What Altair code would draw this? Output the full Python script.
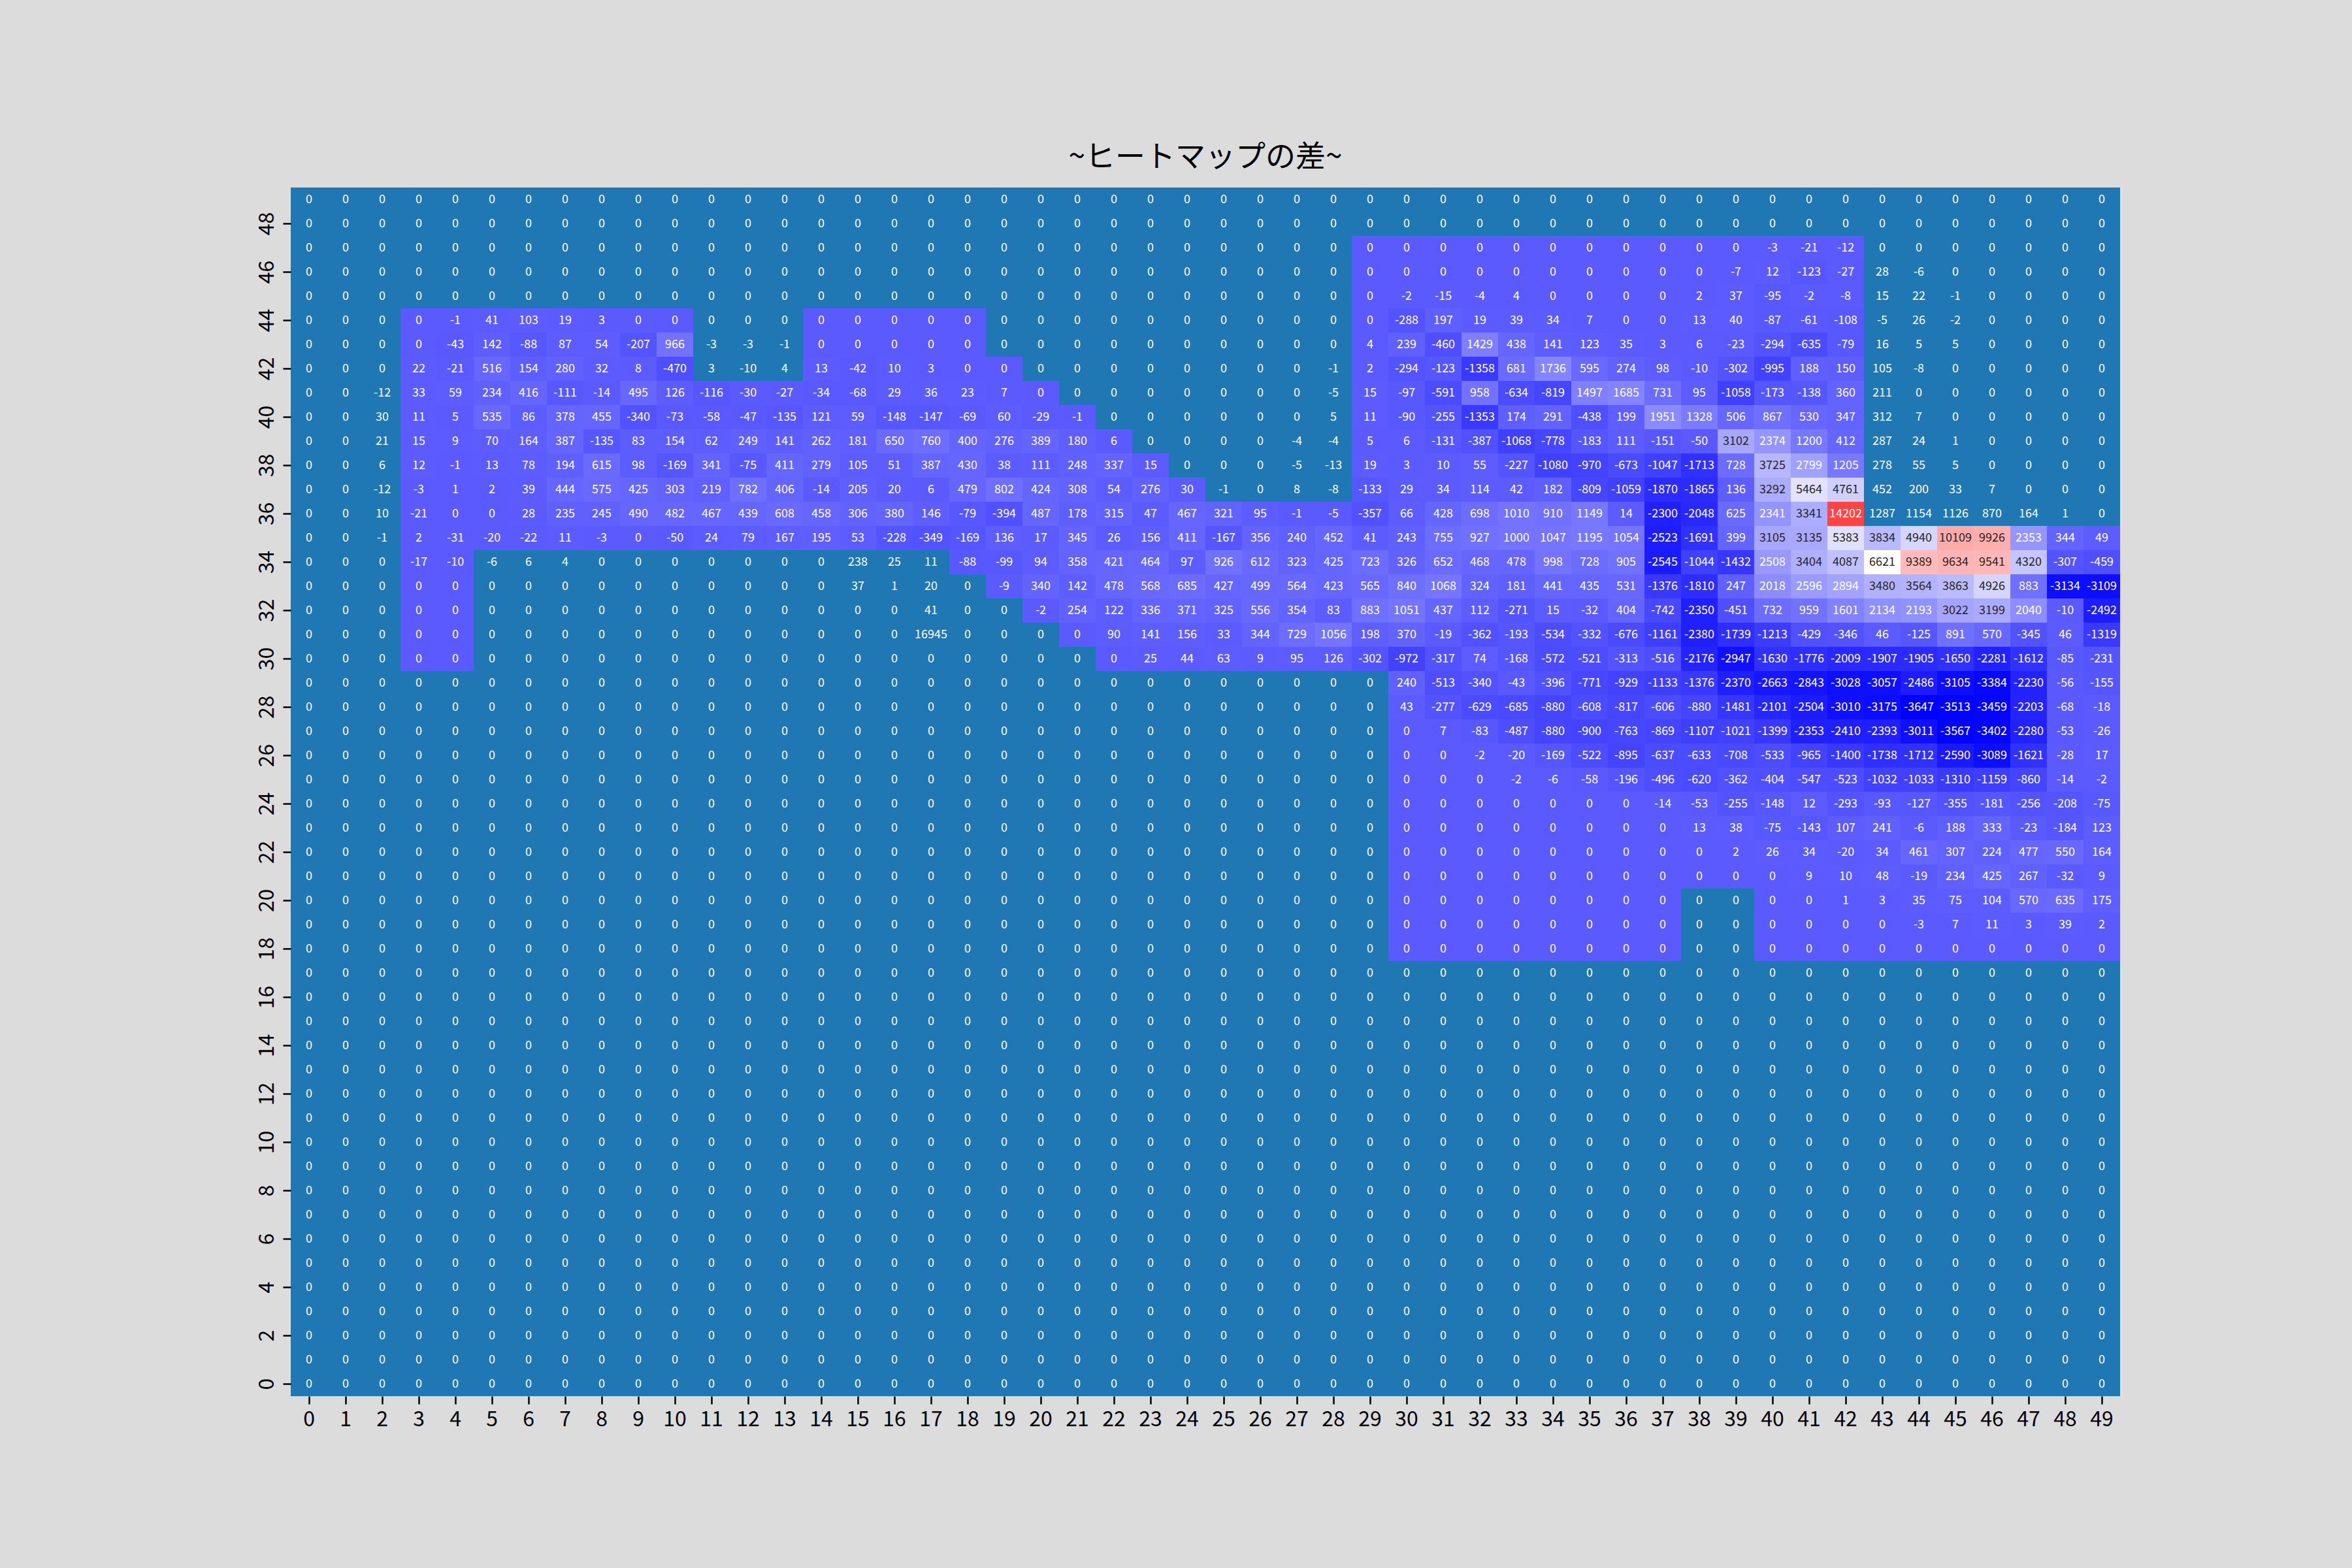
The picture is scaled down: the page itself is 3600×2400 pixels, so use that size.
import altair as alt
import pandas as pd

# ---------------- data ----------------
N_ROWS = 50
N_COLS = 50
TITLE = "~ヒートマップの差~"
Y_TICKS = list(range(0, 50, 2))

# non-zero cell values: row -> list of (start column, consecutive values)
CELL_VALUES = {
    47: [(40, [-3, -21, -12])],
    46: [(39, [-7, 12, -123, -27, 28, -6])],
    45: [(30, [-2, -15, -4, 4, 0, 0, 0, 0, 2, 37, -95, -2, -8, 15, 22, -1])],
    44: [(4, [-1, 41, 103, 19, 3]),
         (30, [-288, 197, 19, 39, 34, 7, 0, 0, 13, 40, -87, -61, -108, -5, 26, -2])],
    43: [(4, [-43, 142, -88, 87, 54, -207, 966, -3, -3, -1]),
         (29, [4, 239, -460, 1429, 438, 141, 123, 35, 3, 6, -23, -294, -635, -79, 16, 5, 5])],
    42: [(3, [22, -21, 516, 154, 280, 32, 8, -470, 3, -10, 4, 13, -42, 10, 3]),
         (28, [-1, 2, -294, -123, -1358, 681, 1736, 595, 274, 98, -10, -302, -995, 188, 150, 105, -8])],
    41: [(2, [-12, 33, 59, 234, 416, -111, -14, 495, 126, -116, -30, -27, -34, -68, 29, 36, 23, 7]),
         (28, [-5, 15, -97, -591, 958, -634, -819, 1497, 1685, 731, 95, -1058, -173, -138, 360, 211])],
    40: [(2, [30, 11, 5, 535, 86, 378, 455, -340, -73, -58, -47, -135, 121, 59, -148, -147, -69, 60, -29, -1]),
         (28, [5, 11, -90, -255, -1353, 174, 291, -438, 199, 1951, 1328, 506, 867, 530, 347, 312, 7])],
    39: [(2, [21, 15, 9, 70, 164, 387, -135, 83, 154, 62, 249, 141, 262, 181, 650, 760, 400, 276, 389, 180, 6]),
         (27, [-4, -4, 5, 6, -131, -387, -1068, -778, -183, 111, -151, -50, 3102, 2374, 1200, 412, 287, 24, 1])],
    38: [(2, [6, 12, -1, 13, 78, 194, 615, 98, -169, 341, -75, 411, 279, 105, 51, 387, 430, 38, 111, 248, 337, 15]),
         (27, [-5, -13, 19, 3, 10, 55, -227, -1080, -970, -673, -1047, -1713, 728, 3725, 2799, 1205, 278, 55, 5])],
    37: [(2, [-12, -3, 1, 2, 39, 444, 575, 425, 303,
              219, 782, 406, -14, 205, 20, 6, 479, 802,
              424, 308, 54, 276, 30, -1, 0, 8, -8,
              -133, 29, 34, 114, 42, 182, -809, -1059, -1870, -1865, 136,
              3292, 5464, 4761, 452, 200, 33, 7])],
    36: [(2, [10, -21, 0, 0, 28, 235, 245, 490, 482,
              467, 439, 608, 458, 306, 380, 146, -79, -394,
              487, 178, 315, 47, 467, 321, 95, -1, -5,
              -357, 66, 428, 698, 1010, 910, 1149, 14, -2300, -2048, 625,
              2341, 3341, 14202, 1287, 1154, 1126, 870, 164, 1])],
    35: [(2, [-1, 2, -31, -20, -22, 11, -3, 0, -50,
              24, 79, 167, 195, 53, -228, -349, -169, 136,
              17, 345, 26, 156, 411, -167, 356, 240, 452,
              41, 243, 755, 927, 1000, 1047, 1195, 1054, -2523, -1691, 399,
              3105, 3135, 5383, 3834, 4940, 10109, 9926, 2353, 344, 49])],
    34: [(3, [-17, -10, -6, 6, 4]),
         (15, [238, 25, 11, -88, -99,
               94, 358, 421, 464, 97, 926, 612, 323, 425,
               723, 326, 652, 468, 478, 998, 728, 905, -2545, -1044, -1432,
               2508, 3404, 4087, 6621, 9389, 9634, 9541, 4320, -307, -459])],
    33: [(15, [37, 1, 20, 0, -9,
               340, 142, 478, 568, 685, 427, 499, 564, 423,
               565, 840, 1068, 324, 181, 441, 435, 531, -1376, -1810, 247,
               2018, 2596, 2894, 3480, 3564, 3863, 4926, 883, -3134, -3109])],
    32: [(17, [41, 0, 0,
               -2, 254, 122, 336, 371, 325, 556, 354, 83,
               883, 1051, 437, 112, -271, 15, -32, 404, -742, -2350, -451,
               732, 959, 1601, 2134, 2193, 3022, 3199, 2040, -10, -2492])],
    31: [(17, [16945]),
         (22, [90, 141, 156, 33, 344, 729, 1056,
               198, 370, -19, -362, -193, -534, -332, -676, -1161, -2380, -1739,
               -1213, -429, -346, 46, -125, 891, 570, -345, 46, -1319])],
    30: [(23, [25, 44, 63, 9, 95, 126,
               -302, -972, -317, 74, -168, -572, -521, -313, -516, -2176, -2947,
               -1630, -1776, -2009, -1907, -1905, -1650, -2281, -1612, -85, -231])],
    29: [(30, [240, -513, -340, -43, -396, -771, -929, -1133, -1376, -2370,
               -2663, -2843, -3028, -3057, -2486, -3105, -3384, -2230, -56, -155])],
    28: [(30, [43, -277, -629, -685, -880, -608, -817, -606, -880, -1481,
               -2101, -2504, -3010, -3175, -3647, -3513, -3459, -2203, -68, -18])],
    27: [(31, [7, -83, -487, -880, -900, -763, -869, -1107, -1021,
               -1399, -2353, -2410, -2393, -3011, -3567, -3402, -2280, -53, -26])],
    26: [(32, [-2, -20, -169, -522, -895, -637, -633, -708,
               -533, -965, -1400, -1738, -1712, -2590, -3089, -1621, -28, 17])],
    25: [(33, [-2, -6, -58, -196, -496, -620, -362,
               -404, -547, -523, -1032, -1033, -1310, -1159, -860, -14, -2])],
    24: [(37, [-14, -53, -255, -148, 12, -293, -93, -127, -355, -181, -256, -208, -75])],
    23: [(38, [13, 38, -75, -143, 107, 241, -6, 188, 333, -23, -184, 123])],
    22: [(39, [2, 26, 34, -20, 34, 461, 307, 224, 477, 550, 164])],
    21: [(41, [9, 10, 48, -19, 234, 425, 267, -32, 9])],
    20: [(42, [1, 3, 35, 75, 104, 570, 635, 175])],
    19: [(44, [-3, 7, 11, 3, 39, 2])],
}

# cells drawn with the diverging colour map: row -> list of (first col, last col)
COLORED_RANGES = {
    47: [(29, 42)], 46: [(29, 42)], 45: [(29, 42)],
    44: [(3, 10), (14, 18), (29, 42)],
    43: [(3, 10), (14, 18), (29, 42)],
    42: [(3, 10), (14, 19), (29, 42)],
    41: [(3, 20), (29, 42)],
    40: [(3, 21), (29, 42)],
    39: [(3, 22), (29, 42)],
    38: [(3, 23), (29, 42)],
    37: [(3, 24), (29, 42)],
    36: [(3, 42)],
    35: [(3, 49)],
    34: [(3, 4), (18, 49)],
    33: [(3, 4), (19, 49)],
    32: [(3, 4), (20, 49)],
    31: [(3, 4), (21, 49)],
    30: [(3, 4), (22, 49)],
    29: [(30, 49)], 28: [(30, 49)], 27: [(30, 49)], 26: [(30, 49)],
    25: [(30, 49)], 24: [(30, 49)], 23: [(30, 49)], 22: [(30, 49)],
    21: [(30, 49)],
    20: [(30, 37), (40, 49)], 19: [(30, 37), (40, 49)], 18: [(30, 37), (40, 49)],
}

VMIN, VMAX = -3647, 16945
VMID = (VMIN + VMAX) / 2

# ---------------- build table ----------------
values = {(r, c): 0 for r in range(N_ROWS) for c in range(N_COLS)}
for r, segs in CELL_VALUES.items():
    for start, seq in segs:
        for i, v in enumerate(seq):
            values[(r, start + i)] = v
colored = set()
for r, ranges in COLORED_RANGES.items():
    for a, b in ranges:
        for c in range(a, b + 1):
            colored.add((r, c))

records = []
for r in range(N_ROWS):
    for c in range(N_COLS):
        v = values[(r, c)]
        records.append({"row": r, "col": c, "value": v, "label": str(v),
                        "colored": (r, c) in colored})
df = pd.DataFrame(records)

FONT = "Noto Sans CJK JP"

# dark annotation text only on light cells (luminance rule, like seaborn)
DARK_TEXT_TEST = "datum.colored && datum.value > 2922 && datum.value < 11385"

base = alt.Chart(df).encode(
    x=alt.X("col:O", sort="ascending",
            scale=alt.Scale(paddingInner=0, paddingOuter=0),
            axis=alt.Axis(title=None, labelAngle=0, orient="bottom")),
    y=alt.Y("row:O", sort="descending",
            scale=alt.Scale(paddingInner=0, paddingOuter=0),
            axis=alt.Axis(title=None, values=Y_TICKS, labelAngle=270,
                          labelAlign="center", labelBaseline="bottom")),
)

rects = base.mark_rect().encode(
    color=alt.condition(
        "datum.colored",
        alt.Color("value:Q",
                  scale=alt.Scale(domain=[VMIN, VMID, VMAX],
                                  range=["#0000ff", "#ffffff", "#ff0000"],
                                  interpolate="rgb", clamp=True),
                  legend=None),
        alt.value("#1f77b4"),
    )
)

texts = base.mark_text(fontSize=18, font=FONT).encode(
    text=alt.Text("label:N"),
    color=alt.condition(DARK_TEXT_TEST, alt.value("#262626"), alt.value("#ffffff")),
)

chart = (
    alt.layer(rects, texts)
    .properties(
        width=2800, height=1850,
        title=alt.TitleParams(TITLE, fontSize=46, font=FONT, fontWeight="normal",
                              anchor="middle", offset=22, color="#000000"),
        autosize=alt.AutoSizeParams(type="none"),
        padding={"left": 445, "top": 287, "right": 355, "bottom": 263},
        background="#dcdcdc",
    )
    .configure_view(stroke=None)
    .configure_axis(labelFont=FONT, labelFontSize=32, labelColor="#000000",
                    domain=False, ticks=True, tickSize=12, tickWidth=2.5,
                    tickColor="#000000", labelPadding=8, grid=False)
)

chart.save("out.html", embed_options={"renderer": "svg", "actions": False})
